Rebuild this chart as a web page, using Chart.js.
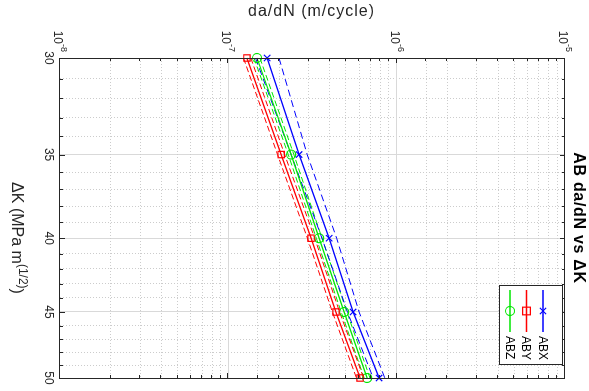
<!DOCTYPE html>
<html>
<head>
<meta charset="utf-8">
<script src="https://cdn.jsdelivr.net/npm/chart.js@4/dist/chart.umd.min.js"></script>
<style>
  html, body { margin: 0; padding: 0; background: #fff; overflow: hidden; }
  /* the figure is drawn upright, then turned a quarter clockwise like the reference */
  #wrap { position: absolute; left: 0; top: 0; width: 391px; height: 589px;
          transform-origin: 0 0; transform: translate(589px, 0) rotate(90deg); }
</style>
</head>
<body>
<div id="wrap"><canvas id="c" width="391" height="589"></canvas></div>
<script>
// ΔK values (MPa m^1/2)
const deltaK = [30, 35, 40, 45, 50];
const kTicks = [30,31,32,33,34,35,36,37,38,39,40,41,42,43,44,45,46,47,48,49,50];
const kLabels = [30, 35, 40, 45, 50];

// da/dN (m/cycle) per direction, plus the dashed bounds
const abx      = [1.70e-7, 2.63e-7, 3.97e-7, 5.51e-7, 7.86e-7];
const abxUpper = [2.00e-7, 2.94e-7, 4.40e-7, 5.98e-7, 8.50e-7];
const abxLower = [1.45e-7, 2.36e-7, 3.60e-7, 5.10e-7, 7.25e-7];
const aby      = [1.29e-7, 2.06e-7, 3.10e-7, 4.36e-7, 6.06e-7];
const abyUpper = [1.36e-7, 2.16e-7, 3.26e-7, 4.58e-7, 6.36e-7];
const abyLower = [1.23e-7, 1.96e-7, 2.95e-7, 4.15e-7, 5.77e-7];
const abz      = [1.48e-7, 2.36e-7, 3.46e-7, 4.87e-7, 6.67e-7];
const abzUpper = [1.54e-7, 2.45e-7, 3.60e-7, 5.06e-7, 6.94e-7];
const abzLower = [1.42e-7, 2.27e-7, 3.33e-7, 4.68e-7, 6.41e-7];

const BLUE = '#0000ff', RED = '#ff0000', GREEN = '#00e600';
const FONT = '"Liberation Sans", Arial, Helvetica, sans-serif';

function pts(ys) { return deltaK.map((k, i) => ({ x: k, y: ys[i] })); }

function mainSet(label, ys, color, marker) {
    return { label: label, data: pts(ys), borderColor: color, backgroundColor: 'rgba(0,0,0,0)',
             borderWidth: 1.3, pointStyle: marker, pointRadius: 4.5, pointBorderWidth: 1.2,
             pointBorderColor: color, pointBackgroundColor: 'rgba(0,0,0,0)', clip: false,
             tension: 0, fill: false, showInLegend: true, order: 1 };
}
function boundSet(ys, color, dash) {
    return { label: '', data: pts(ys), borderColor: color, borderWidth: 1, borderDash: dash,
             pointRadius: 0, tension: 0, fill: false, order: 2 };
}

function isDecade(v) { const l = Math.log10(v); return Math.abs(l - Math.round(l)) < 1e-6; }

// titles, box, inward ticks, 10^n labels and the boxed legend (MATLAB look)
const decor = {
    id: 'decor',
    afterDraw(chart) {
        const ctx = chart.ctx, a = chart.chartArea;
        const xs = chart.scales.x, ys = chart.scales.y;
        ctx.save();
        ctx.strokeStyle = '#262626';
        ctx.lineWidth = 1;
        // inward ticks
        ctx.beginPath();
        xs.ticks.forEach(t => {
            const px = Math.round(xs.getPixelForValue(t.value)) + 0.5;
            const len = t.value % 5 === 0 ? 5 : 3;
            ctx.moveTo(px, a.bottom); ctx.lineTo(px, a.bottom - len);
            ctx.moveTo(px, a.top); ctx.lineTo(px, a.top + len);
        });
        ys.ticks.forEach(t => {
            const py = Math.round(ys.getPixelForValue(t.value)) + 0.5;
            const len = isDecade(t.value) ? 5 : 3;
            ctx.moveTo(a.left, py); ctx.lineTo(a.left + len, py);
            ctx.moveTo(a.right, py); ctx.lineTo(a.right - len, py);
        });
        ctx.stroke();
        ctx.strokeRect(Math.round(a.left) + 0.5, Math.round(a.top) + 0.5,
                       Math.round(a.right - a.left), Math.round(a.bottom - a.top));

        // 10^n labels on the da/dN axis
        ctx.fillStyle = '#262626';
        ctx.textBaseline = 'alphabetic';
        ys.ticks.forEach(t => {
            if (!isDecade(t.value)) return;
            const py = ys.getPixelForValue(t.value);
            const ex = String(Math.round(Math.log10(t.value)));
            ctx.font = '9px ' + FONT;
            const we = ctx.measureText(ex).width;
            ctx.font = '12px ' + FONT;
            const wb = ctx.measureText('10').width;
            const right = a.left - 6;
            ctx.textAlign = 'left';
            ctx.fillText('10', right - we - wb, py + 6);
            ctx.font = '9px ' + FONT;
            ctx.fillText(ex, right - we, py - 1);
        });

        // chart title
        ctx.fillStyle = '#000';
        ctx.textAlign = 'center';
        ctx.textBaseline = 'middle';
        ctx.font = 'bold 16px ' + FONT;
        ctx.letterSpacing = '0.7px';
        ctx.fillText('AB da/dN vs \u0394K', (a.left + a.right) / 2, 11);

        // y axis title
        ctx.save();
        ctx.translate(12, (a.top + a.bottom) / 2 + 1);
        ctx.rotate(-Math.PI / 2);
        ctx.font = '16px ' + FONT;
        ctx.letterSpacing = '1px';
        ctx.fillStyle = '#262626';
        ctx.fillText('da/dN (m/cycle)', 0, 0);
        ctx.restore();
        ctx.letterSpacing = '0px';

        // x axis title with superscript
        ctx.fillStyle = '#262626';
        ctx.textAlign = 'left';
        ctx.textBaseline = 'alphabetic';
        const t1 = '\u0394K (MPa m', t2 = '(1/2)', t3 = ')';
        ctx.font = '16px ' + FONT; const w1 = ctx.measureText(t1).width, w3 = ctx.measureText(t3).width;
        ctx.font = '12px ' + FONT; const w2 = ctx.measureText(t2).width;
        let x0 = (a.left + a.right) / 2 - (w1 + w2 + w3) / 2 + 20;
        const base = 577;
        ctx.font = '16px ' + FONT; ctx.fillText(t1, x0, base);
        ctx.font = '12px ' + FONT; ctx.fillText(t2, x0 + w1, base - 7);
        ctx.font = '16px ' + FONT; ctx.fillText(t3, x0 + w1 + w2, base);

        // legend box
        const bx = a.right - 93, by = a.top + 2, bw = 79, bh = 63;
        ctx.fillStyle = '#fff';
        ctx.fillRect(bx, by, bw, bh);
        ctx.strokeStyle = '#262626';
        ctx.strokeRect(bx + 0.5, by + 0.5, bw, bh);
        const items = chart.data.datasets.filter(d => d.showInLegend);
        items.forEach((d, i) => {
            const ry = by + 20 + i * 16.5;
            ctx.strokeStyle = d.borderColor;
            ctx.lineWidth = 1.3;
            ctx.beginPath(); ctx.moveTo(bx + 5, ry); ctx.lineTo(bx + 47, ry); ctx.stroke();
            const mx = bx + 26, r = 4.5;
            ctx.lineWidth = 1.2;
            ctx.beginPath();
            if (d.pointStyle === 'circle') ctx.arc(mx, ry, r, 0, Math.PI * 2);
            else if (d.pointStyle === 'rect') ctx.rect(mx - r * 0.85, ry - r * 0.85, r * 1.7, r * 1.7);
            else { ctx.moveTo(mx - 3.2, ry - 3.2); ctx.lineTo(mx + 3.2, ry + 3.2); ctx.moveTo(mx - 3.2, ry + 3.2); ctx.lineTo(mx + 3.2, ry - 3.2); }
            ctx.stroke();
            ctx.fillStyle = '#000';
            ctx.font = '12px ' + FONT;
            ctx.textBaseline = 'middle';
            ctx.fillText(d.label, bx + 51, ry + 1);
        });
        ctx.restore();
    }
};

new Chart(document.getElementById('c'), {
    type: 'line',
    data: {
        datasets: [
            mainSet('ABX', abx, BLUE, 'crossRot'),
            mainSet('ABY', aby, RED, 'rect'),
            mainSet('ABZ', abz, GREEN, 'circle'),
            boundSet(abxUpper, BLUE, [7, 4]), boundSet(abxLower, BLUE, [7, 4]),
            boundSet(abyUpper, RED, [6, 3]), boundSet(abyLower, RED, [6, 3]),
            boundSet(abzUpper, GREEN, [6, 3]), boundSet(abzLower, GREEN, [6, 3])
        ]
    },
    options: {
        responsive: false,
        animation: false,
        devicePixelRatio: 1,
        layout: { padding: { top: 24, right: 13, left: 0, bottom: 0 } },
        plugins: { legend: { display: false }, tooltip: { enabled: false }, title: { display: false } },
        scales: {
            x: {
                type: 'logarithmic', min: 30, max: 50,
                afterBuildTicks: s => { s.ticks = kTicks.map(v => ({ value: v })); },
                afterFit: s => { s.height = 60; },
                ticks: { autoSkip: false, maxRotation: 0, padding: 4, color: '#262626',
                         font: { family: FONT, size: 12 },
                         callback: v => kLabels.includes(v) ? String(v) : '' },
                grid: { drawTicks: false,
                        color: c => (c.tick && c.tick.value % 5 === 0) ? '#d9d9d9' : '#cccccc' },
                border: { display: false,
                          dash: c => (c.tick && c.tick.value % 5 === 0) ? [] : [1, 2] }
            },
            y: {
                type: 'logarithmic', min: 1e-8, max: 1e-5,
                afterFit: s => { s.width = 58; },
                ticks: { display: false },
                grid: { drawTicks: false,
                        color: c => (c.tick && isDecade(c.tick.value)) ? '#d9d9d9' : '#cccccc' },
                border: { display: false,
                          dash: c => (c.tick && isDecade(c.tick.value)) ? [] : [1, 2] }
            }
        }
    },
    plugins: [decor]
});
</script>
</body>
</html>
